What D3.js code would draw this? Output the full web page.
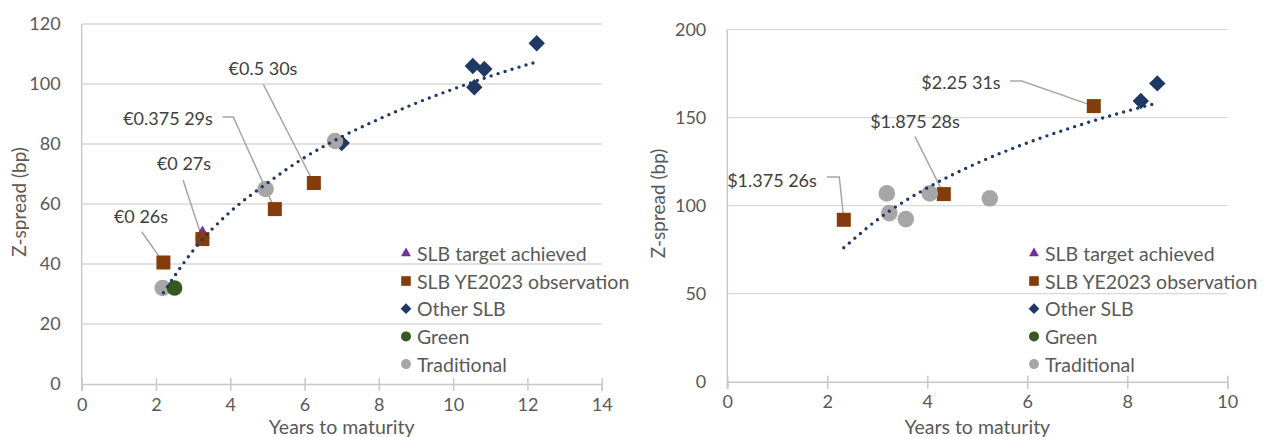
<!DOCTYPE html>
<html>
<head>
<meta charset="utf-8">
<script src="https://cdn.jsdelivr.net/npm/d3@7"></script>
<style>
html,body{margin:0;padding:0;background:#fff;}
svg{display:block;}
text{font-family:Lato,"Open Sans",sans-serif;}
</style>
</head>
<body>
<svg id="chart" width="1268" height="437"></svg>
<script>
// ---------- DATA (left chart, EUR) ----------
const leftTargetX = [3.25];
const leftTargetY = [50];
const leftObsX = [2.2, 3.25, 5.2, 6.25];
const leftObsY = [40.5, 48.3, 58.3, 67];
const leftOtherX = [7.0, 10.53, 10.84, 10.57, 12.25];
const leftOtherY = [80.3, 106, 105, 98.9, 113.6];
const leftGreenX = [2.5];
const leftGreenY = [32];
const leftTradX = [2.18, 4.95, 6.82];
const leftTradY = [32, 65, 81];
const leftTrendX = [2.2, 3, 4, 5, 6, 7, 8, 9, 10, 11, 12.2];
const leftTrendY = [30.4, 44.5, 57.4, 67.0, 75.5, 82.4, 88.3, 93.6, 98.3, 102.6, 107.2];
const leftLabels = ["€0 26s", "€0 27s", "€0.375 29s", "€0.5 30s"];
const leftXTicks = [0, 2, 4, 6, 8, 10, 12, 14];
const leftYTicks = [0, 20, 40, 60, 80, 100, 120];

// ---------- DATA (right chart, USD) ----------
const rightObsX = [2.33, 4.33, 7.33];
const rightObsY = [92, 106.6, 156.6];
const rightOtherX = [8.27, 8.6];
const rightOtherY = [159.5, 169.5];
const rightTradX = [3.19, 3.24, 3.57, 4.05, 5.25];
const rightTradY = [107, 95.8, 92.4, 107, 104.2];
const rightTrendX = [2.33, 3, 4, 5, 6, 7, 8, 8.55];
const rightTrendY = [76.1, 92.0, 110.1, 124.2, 135.7, 145.4, 153.8, 158.0];
const rightLabels = ["$1.375 26s", "$1.875 28s", "$2.25 31s"];
const rightXTicks = [0, 2, 4, 6, 8, 10];
const rightYTicks = [0, 50, 100, 150, 200];

const legendNames = ["SLB target achieved", "SLB YE2023 observation", "Other SLB", "Green", "Traditional"];
const xTitle = "Years to maturity";
const yTitle = "Z-spread (bp)";

const C = {tri:"#7030a0", sq:"#843c0c", dia:"#1f3864", green:"#385723", trad:"#a6a6a6", trend:"#1f3864"};
const svg = d3.select("#chart");

function zip(xs, ys){ return xs.map((x,i)=>({x, y:ys[i]})); }

function panel(cfg){
  const g = svg.append("g");
  const x = d3.scaleLinear().domain(cfg.xDom).range(cfg.xRange);
  const y = d3.scaleLinear().domain(cfg.yDom).range(cfg.yRange);
  // gridlines
  g.selectAll(".grid").data(cfg.yTicks.filter(t=>t!==0)).enter().append("line")
    .attr("x1", cfg.xRange[0]).attr("x2", cfg.xRange[1])
    .attr("y1", d=>y(d)).attr("y2", d=>y(d))
    .attr("stroke", "#d9d9d9").attr("stroke-width", 1.3);
  // y axis line
  g.append("line").attr("x1", cfg.xRange[0]).attr("x2", cfg.xRange[0])
    .attr("y1", cfg.yRange[1]).attr("y2", cfg.yRange[0]+7)
    .attr("stroke", "#c8c8c8").attr("stroke-width", 1.5);
  // x axis
  const xa = g.append("g").attr("transform", `translate(0,${cfg.yRange[0]})`)
    .call(d3.axisBottom(x).tickValues(cfg.xTicks).tickSize(7).tickPadding(7).tickFormat(d3.format("d")));
  xa.select(".domain").attr("stroke", "#c8c8c8").attr("stroke-width", 1.5);
  xa.selectAll(".tick line").attr("stroke", "#c8c8c8").attr("stroke-width", 1.5).attr("y1", -6);
  xa.selectAll(".tick text").attr("fill", "#595959").style("font-size", "18px").style("font-family", "Lato");
  // y axis labels
  const ya = g.append("g").attr("transform", `translate(${cfg.xRange[0]},0)`)
    .call(d3.axisLeft(y).tickValues(cfg.yTicks).tickSize(0).tickPadding(21).tickFormat(d3.format("d")));
  ya.select(".domain").remove();
  ya.selectAll(".tick text").attr("fill", "#595959").style("font-size", "18px").style("font-family", "Lato");
  // titles
  g.append("text").attr("x", (cfg.xRange[0]+cfg.xRange[1])/2).attr("y", cfg.xTitleY)
    .attr("text-anchor", "middle").attr("dominant-baseline", "central")
    .attr("fill", "#595959").style("font-size", "19.5px").text(xTitle);
  g.append("text").attr("transform", `translate(${cfg.yTitleX},${cfg.yTitleY}) rotate(-90)`)
    .attr("text-anchor", "middle").attr("dominant-baseline", "central")
    .attr("fill", "#595959").style("font-size", "19px").text(yTitle);

  // leader lines (point to data squares)
  const obs = zip(cfg.obsX, cfg.obsY);
  cfg.callouts.forEach(c=>{
    const p = obs[c.i];
    const pts = c.path.concat([[x(p.x), y(p.y)]]);
    g.append("path").attr("d", d3.line()(pts)).attr("fill", "none")
      .attr("stroke", "#a6a6a6").attr("stroke-width", 1.5);
    g.append("text").attr("x", c.tx).attr("y", c.ty).attr("text-anchor", c.anchor||"middle")
      .attr("dominant-baseline", "central").attr("fill", "#404040")
      .style("font-size", "18px").text(cfg.labels[c.li]);
  });

  // markers
  const tri = d3.symbol().type(d3.symbolTriangle).size(95);
  g.selectAll(".tri").data(zip(cfg.triX||[], cfg.triY||[])).enter().append("path")
    .attr("d", tri).attr("transform", d=>`translate(${x(d.x)},${y(d.y)})`).attr("fill", C.tri);
  g.selectAll(".sq").data(obs).enter().append("rect")
    .attr("x", d=>x(d.x)-7).attr("y", d=>y(d.y)-7).attr("width", 14).attr("height", 14).attr("fill", C.sq);
  g.selectAll(".dia").data(zip(cfg.otherX, cfg.otherY)).enter().append("rect")
    .attr("x", -5.8).attr("y", -5.8).attr("width", 11.6).attr("height", 11.6)
    .attr("transform", d=>`translate(${x(d.x)},${y(d.y)}) rotate(45)`).attr("fill", C.dia);
  g.selectAll(".trad").data(zip(cfg.tradX, cfg.tradY)).enter().append("circle")
    .attr("cx", d=>x(d.x)).attr("cy", d=>y(d.y)).attr("r", 8.3).attr("fill", C.trad);
  g.selectAll(".green").data(zip(cfg.greenX||[], cfg.greenY||[])).enter().append("circle")
    .attr("cx", d=>x(d.x)).attr("cy", d=>y(d.y)).attr("r", 7.8).attr("fill", C.green);

  // trendline
  g.append("path").datum(zip(cfg.trendX, cfg.trendY))
    .attr("d", d3.line().x(d=>x(d.x)).y(d=>y(d.y)).curve(d3.curveMonotoneX))
    .attr("fill", "none").attr("stroke", C.trend).attr("stroke-width", 3.4)
    .attr("stroke-linecap", "round").attr("stroke-dasharray", "0 7.3");

  // legend
  const lg = g.append("g").attr("transform", `translate(${cfg.legX},${cfg.legY})`);
  legendNames.forEach((name, i)=>{
    const row = lg.append("g").attr("transform", `translate(0,${i*27.7})`);
    if(i===0) row.append("path").attr("d", d3.symbol().type(d3.symbolTriangle).size(42)).attr("fill", C.tri);
    if(i===1) row.append("rect").attr("x", -4.8).attr("y", -4.8).attr("width", 9.6).attr("height", 9.6).attr("fill", C.sq);
    if(i===2) row.append("rect").attr("x", -3.8).attr("y", -3.8).attr("width", 7.6).attr("height", 7.6).attr("transform", "rotate(45)").attr("fill", C.dia);
    if(i===3) row.append("circle").attr("r", 5).attr("fill", C.green);
    if(i===4) row.append("circle").attr("r", 5).attr("fill", C.trad);
    row.append("text").attr("x", 11).attr("y", 0).attr("dominant-baseline", "central")
      .attr("fill", "#595959").style("font-size", "19.5px").text(name);
  });
}

panel({
  xDom:[0,14], xRange:[81.7,601.7], yDom:[0,120], yRange:[384,24],
  xTicks:leftXTicks, yTicks:leftYTicks, xTitleY:426.5, yTitleX:18, yTitleY:202,
  obsX:leftObsX, obsY:leftObsY, triX:leftTargetX, triY:leftTargetY,
  otherX:leftOtherX, otherY:leftOtherY, greenX:leftGreenX, greenY:leftGreenY,
  tradX:leftTradX, tradY:leftTradY, trendX:leftTrendX, trendY:leftTrendY,
  labels:leftLabels,
  callouts:[
    {i:0, li:0, tx:141, ty:216, path:[[141.7,231.7]]},
    {i:1, li:1, tx:184, ty:163, path:[[183,180]]},
    {i:2, li:2, tx:168, ty:118, path:[[222.7,117],[233.3,117]]},
    {i:3, li:3, tx:263, ty:68, path:[[263.3,84.3]]}
  ],
  legX:406, legY:253.3
});

panel({
  xDom:[0,10], xRange:[727.3,1227.3], yDom:[0,200], yRange:[381.7,29.7],
  xTicks:rightXTicks, yTicks:rightYTicks, xTitleY:426.5, yTitleX:657, yTitleY:203.5,
  obsX:rightObsX, obsY:rightObsY,
  otherX:rightOtherX, otherY:rightOtherY,
  tradX:rightTradX, tradY:rightTradY, trendX:rightTrendX, trendY:rightTrendY,
  labels:rightLabels,
  callouts:[
    {i:0, li:0, tx:772, ty:180, path:[[826.7,177],[839.3,177]]},
    {i:1, li:1, tx:915, ty:121, path:[[915,136.7]]},
    {i:2, li:2, tx:961, ty:82, path:[[1010,81],[1021.7,81]]}
  ],
  legX:1034, legY:253.3
});
</script>
</body>
</html>
